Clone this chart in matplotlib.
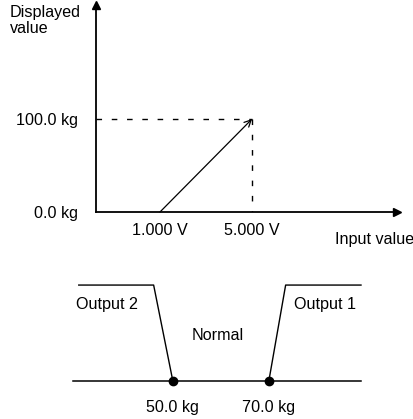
import matplotlib
matplotlib.use('Agg')
import matplotlib.pyplot as plt

plt.rcParams['font.family'] = ['Liberation Sans', 'DejaVu Sans']
plt.rcParams['font.size'] = 11.6
plt.rcParams['lines.scale_dashes'] = False

# scaling: input voltage -> displayed weight
volts = [1.0, 5.0]
weights = [0.0, 100.0]
volt_labels = ['1.000 V', '5.000 V']
weight_labels = ['0.0 kg', '100.0 kg']

# comparator: output 2 below 50 kg, output 1 above 70 kg
thresholds = [50.0, 70.0]
threshold_labels = ['50.0 kg', '70.0 kg']
out2_x = [30.4, 46.0, 50.0]
out2_y = [1, 1, 0]
out1_x = [70.0, 73.5, 89.2]
out1_y = [0, 1, 1]
base_x = [29.2, 89.2]

W, H = 413, 419
fig = plt.figure(figsize=(W / 100, H / 100), dpi=100)

def box(x0, y0, x1, y1):
    # pixel box (top-left origin) -> figure fraction rect
    return [x0 / W, 1 - y1 / H, (x1 - x0) / W, (y1 - y0) / H]

# ---- top: scaling graph
ax = fig.add_axes(box(96, 5, 397, 212))
ax.set_xlim(-1.78, 11.3)
ax.set_ylim(0, 222.6)
for s in ['top', 'right']:
    ax.spines[s].set_visible(False)
for s in ['left', 'bottom']:
    ax.spines[s].set_linewidth(1.3)
ax.plot(1, 0, '>k', ms=6, transform=ax.transAxes, clip_on=False)
ax.plot(0, 1, '^k', ms=6, transform=ax.transAxes, clip_on=False)

ax.annotate('', xy=(volts[1], weights[1]), xytext=(volts[0], weights[0]),
            arrowprops=dict(arrowstyle='->', lw=0.9, color='k',
                            shrinkA=0, shrinkB=0, mutation_scale=12))
ax.plot([ax.get_xlim()[0], volts[1]], [weights[1], weights[1]], 'k',
        lw=1.0, dashes=(4, 7), clip_on=False)
ax.plot([volts[1], volts[1]], [weights[1], 0], 'k', lw=1.0, dashes=(4, 7))

ax.set_xticks(volts)
ax.set_xticklabels(volt_labels)
ax.set_yticks(weights)
ax.set_yticklabels(weight_labels)
ax.tick_params(axis='x', length=0, pad=8)
ax.tick_params(axis='y', length=0, pad=13)

fig.text(10 / W, 1 - 5 / H, 'Displayed\nvalue', ha='left', va='top',
         linespacing=1.05)
fig.text(335 / W, 1 - 239 / H, 'Input value', ha='left', va='center')

# ---- bottom: comparator outputs
bx = fig.add_axes(box(73, 270, 361, 381))
bx.set_xlim(base_x)
bx.set_ylim(0, 1.157)
for s in bx.spines.values():
    s.set_visible(False)
bx.plot(base_x, [0, 0], 'k', lw=1.1, clip_on=False)
bx.plot(out2_x, out2_y, 'k', lw=1.0, clip_on=False)
bx.plot(out1_x, out1_y, 'k', lw=1.0, clip_on=False)
bx.plot(thresholds, [0, 0], 'ok', ms=6, clip_on=False)
bx.set_yticks([])
bx.set_xticks(thresholds)
bx.set_xticklabels(threshold_labels)
bx.tick_params(axis='x', length=0, pad=14)

fig.text(76 / W, 1 - 304 / H, 'Output 2', ha='left', va='center')
fig.text(294 / W, 1 - 304 / H, 'Output 1', ha='left', va='center')
fig.text(218 / W, 1 - 335 / H, 'Normal', ha='center', va='center')

fig.savefig('out.png', dpi=100)
